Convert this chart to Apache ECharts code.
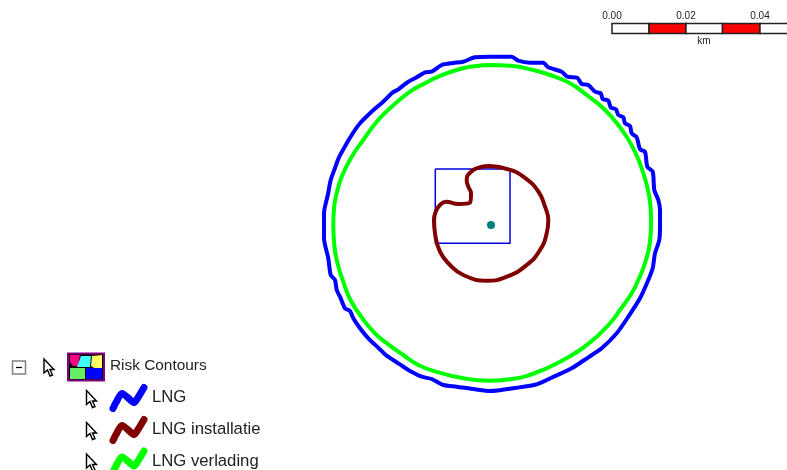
<!DOCTYPE html>
<html>
<head>
<meta charset="utf-8">
<title>Risk Contours</title>
<style>
html,body{margin:0;padding:0;background:#fff;}
#chart{width:787px;height:470px;}
</style>
<script src="https://cdn.jsdelivr.net/npm/echarts@6/dist/echarts.min.js"></script>
</head>
<body>
<div id="chart"></div>
<script>
// contours, x/y in picture units
var lngContour = [[490,56.7],[511.7,56.7],[518.3,60.7],[530,62.7],[543.3,62.7],[548.3,67.3],[561.7,71.7],[567.3,76.7],[577.3,77.7],[581.7,84],[588.3,85],[595,91.7],[600.7,93.3],[602.7,99],[608.3,100.7],[610.7,107.3],[616,109.3],[618.3,115],[623.3,117.3],[625,123.3],[630,126],[631.7,133.3],[636.7,137.3],[640,149.3],[645,151.7],[647.3,166.7],[652.7,171.7],[654.3,190],[658.3,200],[660,210],[660,225],[659.3,240],[655,253.3],[652.7,268.3],[648.3,280],[640,298.3],[628.3,316.7],[616.7,333.3],[601.7,348.3],[588.3,357.3],[571.7,368.3],[551.7,377.7],[536.7,384.3],[516.7,387.7],[490,391],[475,389.3],[456.7,386.7],[443.3,385],[431.7,379],[421.7,376.7],[408.3,370],[398.3,363.3],[386.7,355.7],[378.3,347.7],[368.3,338.3],[360,328.3],[353.3,318.3],[350,311],[345,308.3],[340,296.7],[336.7,290],[335,280],[330.7,275],[328.3,258.3],[324,238.3],[324,213.3],[328,194],[330.7,180],[335,168],[339.3,156.7],[346.7,143.3],[353,133],[360,123.3],[370,113.3],[385,100],[392,93],[398.3,89.3],[408.3,81.7],[416.7,77.3],[425,72.3],[431.7,71.7],[441.7,65],[453.3,63],[463.3,61.7],[475,57.3],[490,56.7]];
var verladingContour = [[490,65],[510,65.7],[530,69.3],[550,75],[570,83.3],[586.7,95],[603.3,108.3],[618.3,125],[633.3,148.3],[643.3,173.3],[649.3,196.7],[651,216.7],[651,225],[650,241.7],[645,263],[638.3,280],[631.7,293.3],[620,310],[610,323.3],[596.7,336.7],[580,350],[560,361.7],[535,373],[511.7,379],[490,380.7],[463.3,378.3],[438.3,372.3],[418.3,365],[403.3,355],[388.3,344.3],[375,333.3],[360,315],[350,299],[343.3,281.7],[336.7,260],[334,241.7],[333.3,225],[334,208.3],[336.7,193.3],[341.7,176.7],[351.7,156.7],[363.3,140],[376.7,121.7],[390,108.3],[410,91.7],[425,83.3],[438.3,76.7],[460,69],[476.7,66],[490,65]];
var installatieContour = [[490,166],[508.3,169.3],[523.3,176.7],[538,191],[545,206.7],[548.3,220],[546.7,233.3],[540,250],[526.7,265],[506.7,276.7],[486.7,280.7],[463.3,275],[450,265],[440,251.7],[435,233.3],[434,220],[436,211],[440,205],[446,201.7],[458.3,204],[470,202.7],[471,193.3],[468.3,186.7],[466.7,180],[470,172.7],[480,167.3],[490,166]];
var siteBox = [[435.3,169],[510,169],[510,243.3],[435.3,243.3],[435.3,169]];
var sourcePoint = [[491,225]];

var scaleEdges = [612,649,686,722.5,760,800];
var scaleFills = ['#fff','#f00','#fff','#f00','#fff'];
var scaleTicks = ['0.00','0.02','0.04'];
var scaleTickX = [612,686,760];
var scaleUnit = 'km';

var legendTitle = 'Risk Contours';
var legendNames = ['LNG','LNG installatie','LNG verlading'];
var legendColors = ['#0000ff','#800000','#00ff00'];
var legendY = [397.5,429.5,461];

var font = '"Liberation Sans", Arial, sans-serif';

function cursor(x, y){
    return [{
        type:'polygon',
        shape:{points:[[x,y],[x,y+14],[x+3.5,y+11],[x+6,y+17],[x+8.5,y+16],[x+6,y+10.5],[x+10,y+10.5]]},
        style:{fill:'#fff',stroke:'#000',lineWidth:1.4}
    }];
}

function squiggle(y, color){
    return {
        type:'polyline',
        shape:{points:[[113,y+11],[116,y+5],[122,y-4],[134,y+5],[138,y],[144,y-10]],smooth:0.25},
        style:{stroke:color,lineWidth:7,fill:null,lineJoin:'round',lineCap:'round'}
    };
}

var graphics = [
    {type:'rect',shape:{x:12.5,y:361,width:13,height:13},style:{fill:'#fff',stroke:'#808080',lineWidth:1.5}},
    {type:'line',shape:{x1:16,y1:367.5,x2:22,y2:367.5},style:{stroke:'#000',lineWidth:1.2}},
    {type:'rect',shape:{x:68,y:353.5,width:36,height:27},style:{fill:'#000',stroke:'#800080',lineWidth:2}},
    {type:'polygon',shape:{points:[[70,355],[80,355],[78,366],[73,366],[70,362]]},style:{fill:'#ff0080'}},
    {type:'polygon',shape:{points:[[81,356],[91,356],[90,367],[77,367]]},style:{fill:'#40ffff'}},
    {type:'polygon',shape:{points:[[92,356],[102,355],[102,369],[96,369],[91,366]]},style:{fill:'#ffff66'}},
    {type:'rect',shape:{x:70,y:368,width:15,height:11},style:{fill:'#66ee66'}},
    {type:'rect',shape:{x:86,y:368,width:16,height:11},style:{fill:'#0000ff'}},
    {type:'text',x:110,y:366,style:{text:legendTitle,font:'15.4px '+font,fill:'#222',textVerticalAlign:'middle'}}
].concat(cursor(44,359));

legendNames.forEach(function(name, i){
    graphics = graphics.concat(cursor(86.5, legendY[i]-7));
    graphics.push(squiggle(legendY[i], legendColors[i]));
    graphics.push({type:'text',x:152,y:legendY[i],style:{text:name,font:'16.7px '+font,fill:'#222',textVerticalAlign:'middle'}});
});

function contourSeries(name, data, color, width, smooth){
    return {
        name:name,
        type:'line',
        data:data,
        symbol:'none',
        smooth:smooth,
        silent:true,
        animation:false,
        lineStyle:{color:color,width:width,join:'round'}
    };
}

var chart = echarts.init(document.getElementById('chart'));
chart.setOption({
    animation:false,
    backgroundColor:'#fff',
    grid:{left:0,right:0,top:0,bottom:0},
    xAxis:{type:'value',min:0,max:787,show:false},
    yAxis:{type:'value',min:0,max:470,inverse:true,show:false},
    graphic:graphics,
    series:[
        contourSeries('site',siteBox,'#0000e0',1.5,false),
        contourSeries('LNG',lngContour,'#0000ff',4,0.25),
        contourSeries('LNG verlading',verladingContour,'#00ff00',4,0.5),
        contourSeries('LNG installatie',installatieContour,'#800000',4,0.5),
        {
            type:'scatter',
            data:sourcePoint,
            symbolSize:8,
            silent:true,
            itemStyle:{color:'#008080',opacity:1}
        },
        {
            // scale bar segments
            type:'custom',
            silent:true,
            data:scaleFills.map(function(c,i){return [scaleEdges[i],scaleEdges[i+1],i];}),
            encode:{x:[0,1]},
            renderItem:function(params, api){
                var a = api.coord([api.value(0),23.5]);
                var b = api.coord([api.value(1),33.5]);
                return {
                    type:'rect',
                    shape:{x:a[0],y:a[1],width:b[0]-a[0],height:b[1]-a[1]},
                    style:{fill:scaleFills[api.value(2)],stroke:'#222',lineWidth:1.5}
                };
            }
        },
        {
            type:'custom',
            silent:true,
            data:scaleTickX.map(function(x,i){return [x,i];}),
            encode:{x:0},
            renderItem:function(params, api){
                var p = api.coord([api.value(0),16.5]);
                return {
                    type:'text',
                    x:p[0],y:p[1],
                    style:{text:scaleTicks[api.value(1)],font:'10px '+font,fill:'#222',textAlign:'center',textVerticalAlign:'middle'}
                };
            }
        },
        {
            type:'custom',
            silent:true,
            data:[[704,41]],
            encode:{x:0,y:1},
            renderItem:function(params, api){
                var p = api.coord([api.value(0),api.value(1)]);
                return {
                    type:'text',
                    x:p[0],y:p[1],
                    style:{text:scaleUnit,font:'10px '+font,fill:'#222',textAlign:'center',textVerticalAlign:'middle'}
                };
            }
        }
    ]
});
</script>
</body>
</html>
